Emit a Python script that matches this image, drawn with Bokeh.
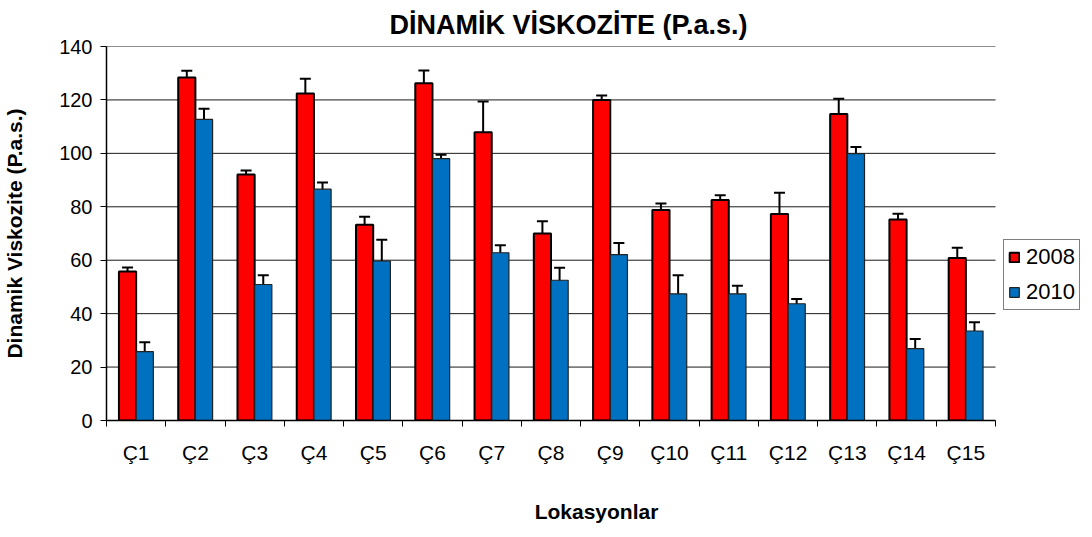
from bokeh.plotting import figure
from bokeh.models import (Range1d, FixedTicker, ColumnDataSource,
                          Whisker, TeeHead, Legend, LegendItem)
from bokeh.transform import dodge
from bokeh.embed import file_html
from bokeh.resources import INLINE

cats = ["Ç1", "Ç2", "Ç3", "Ç4", "Ç5", "Ç6", "Ç7", "Ç8", "Ç9", "Ç10",
        "Ç11", "Ç12", "Ç13", "Ç14", "Ç15"]
v2008 = [55.8, 128.4, 92.1, 122.4, 73.3, 126.2, 107.9, 70.0, 120.0, 78.8,
         82.5, 77.3, 114.7, 75.2, 60.8]
e2008 = [1.5, 2.5, 1.5, 5.5, 3.0, 4.8, 11.5, 4.6, 1.7, 2.4, 1.8, 8.0, 5.7, 2.2, 3.9]
v2010 = [25.8, 112.7, 50.9, 86.6, 59.7, 98.0, 62.8, 52.5, 62.1, 47.4,
         47.4, 43.7, 99.9, 26.9, 33.5]
e2010 = [3.5, 4.0, 3.5, 2.5, 8.0, 1.5, 2.8, 4.7, 4.3, 7.0, 3.0, 1.8, 2.5, 3.6, 3.3]
series = ["2008", "2010"]
y_ticks = [0, 20, 40, 60, 80, 100, 120, 140]

FONT = "Liberation Sans"
n = len(cats)
xc = [i + 0.5 for i in range(n)]

# layout: plot area 889 px wide for the categories, extra room on the right for the legend
PLOT_W = 889
FRAME_W = 980
FRAME_H = 374

src = ColumnDataSource(dict(
    x=xc, v8=v2008, v10=v2010,
    u8=[a + b for a, b in zip(v2008, e2008)], l8=[a - b for a, b in zip(v2008, e2008)],
    u10=[a + b for a, b in zip(v2010, e2010)], l10=[a - b for a, b in zip(v2010, e2010)],
))
grid_src = ColumnDataSource(dict(y=y_ticks, x0=[0] * len(y_ticks), x1=[n] * len(y_ticks)))

p = figure(frame_width=FRAME_W, frame_height=FRAME_H, output_backend="svg", toolbar_location=None,
           x_range=Range1d(0, n * FRAME_W / PLOT_W), y_range=Range1d(y_ticks[0], y_ticks[-1]),
           min_border_left=0, min_border_right=0, min_border_top=0, min_border_bottom=0,
           title="DİNAMİK VİSKOZİTE  (P.a.s.)")
p.title.text_font = FONT
p.title.text_font_size = "27px"
p.title.text_font_style = "bold"
p.title.align = "left"
p.title.offset = 283
p.title.standoff = 14
p.title.text_color = "black"

p.outline_line_color = None
p.background_fill_color = "white"
p.border_fill_color = "white"
p.xgrid.grid_line_color = None
p.ygrid.grid_line_color = None

g = p.segment(x0="x0", x1="x1", y0="y", y1="y", source=grid_src,
              line_color="#1a1a1a", line_width=1)
g.level = "underlay"

bw = 0.29
r8 = p.vbar(x=dodge("x", -bw / 2, range=p.x_range), top="v8", width=bw, bottom=0, source=src,
            fill_color="#FF0000", line_color="black", line_width=2)
r10 = p.vbar(x=dodge("x", bw / 2, range=p.x_range), top="v10", width=bw, bottom=0, source=src,
             fill_color="#0070C0", line_color="#222222", line_width=1.2)

for off, up, lo in [(-bw / 2, "u8", "l8"), (bw / 2, "u10", "l10")]:
    w = Whisker(base=dodge("x", off, range=p.x_range), upper=up, lower=lo, source=src,
                line_color="black", line_width=2,
                upper_head=TeeHead(size=11, line_color="black", line_width=2),
                lower_head=TeeHead(size=11, line_color="black", line_width=2))
    p.add_layout(w)

# x axis: labels at category centres, tick marks between categories
xa = p.xaxis[0]
xa.bounds = (0, n)
xa.ticker = FixedTicker(ticks=xc, minor_ticks=list(range(n + 1)))
xa.major_label_overrides = {x: c for x, c in zip(xc, cats)}
xa.major_tick_line_color = None
xa.major_tick_out = 0
xa.minor_tick_line_color = "black"
xa.minor_tick_out = 6
xa.minor_tick_in = 0
xa.minor_tick_line_width = 1
xa.axis_line_color = "black"
xa.axis_line_width = 1.5
xa.major_label_text_font = FONT
xa.major_label_text_font_size = "21px"
xa.major_label_text_color = "black"
xa.major_label_standoff = 14
xa.axis_label = "Lokasyonlar"
xa.axis_label_text_font = FONT
xa.axis_label_text_font_size = "21px"
xa.axis_label_text_font_style = "bold"
xa.axis_label_text_color = "black"
xa.axis_label_standoff = 33

ya = p.yaxis[0]
ya.ticker = FixedTicker(ticks=y_ticks)
ya.minor_tick_line_color = None
ya.major_tick_out = 6
ya.major_tick_in = 0
ya.major_tick_line_color = "black"
ya.axis_line_color = "black"
ya.axis_line_width = 1.5
ya.major_label_text_font = FONT
ya.major_label_text_font_size = "20px"
ya.major_label_text_color = "black"
ya.major_label_standoff = 8
ya.axis_label = "Dinamik Viskozite (P.a.s.)"
ya.axis_label_text_font = FONT
ya.axis_label_text_font_size = "21px"
ya.axis_label_text_font_style = "bold"
ya.axis_label_text_color = "black"
ya.axis_label_standoff = 30

legend = Legend(items=[LegendItem(label=series[0], renderers=[r8]),
                       LegendItem(label=series[1], renderers=[r10])],
                location=(897, 110), orientation="vertical",
                label_text_font=FONT, label_text_font_size="22px", label_text_color="black",
                glyph_width=12, glyph_height=12, label_height=22, label_standoff=6,
                spacing=9, padding=4, margin=0,
                border_line_color="black", border_line_width=1,
                background_fill_color="white", background_fill_alpha=1)
p.add_layout(legend, "center")

open("out.html", "w").write(file_html(p, INLINE))
